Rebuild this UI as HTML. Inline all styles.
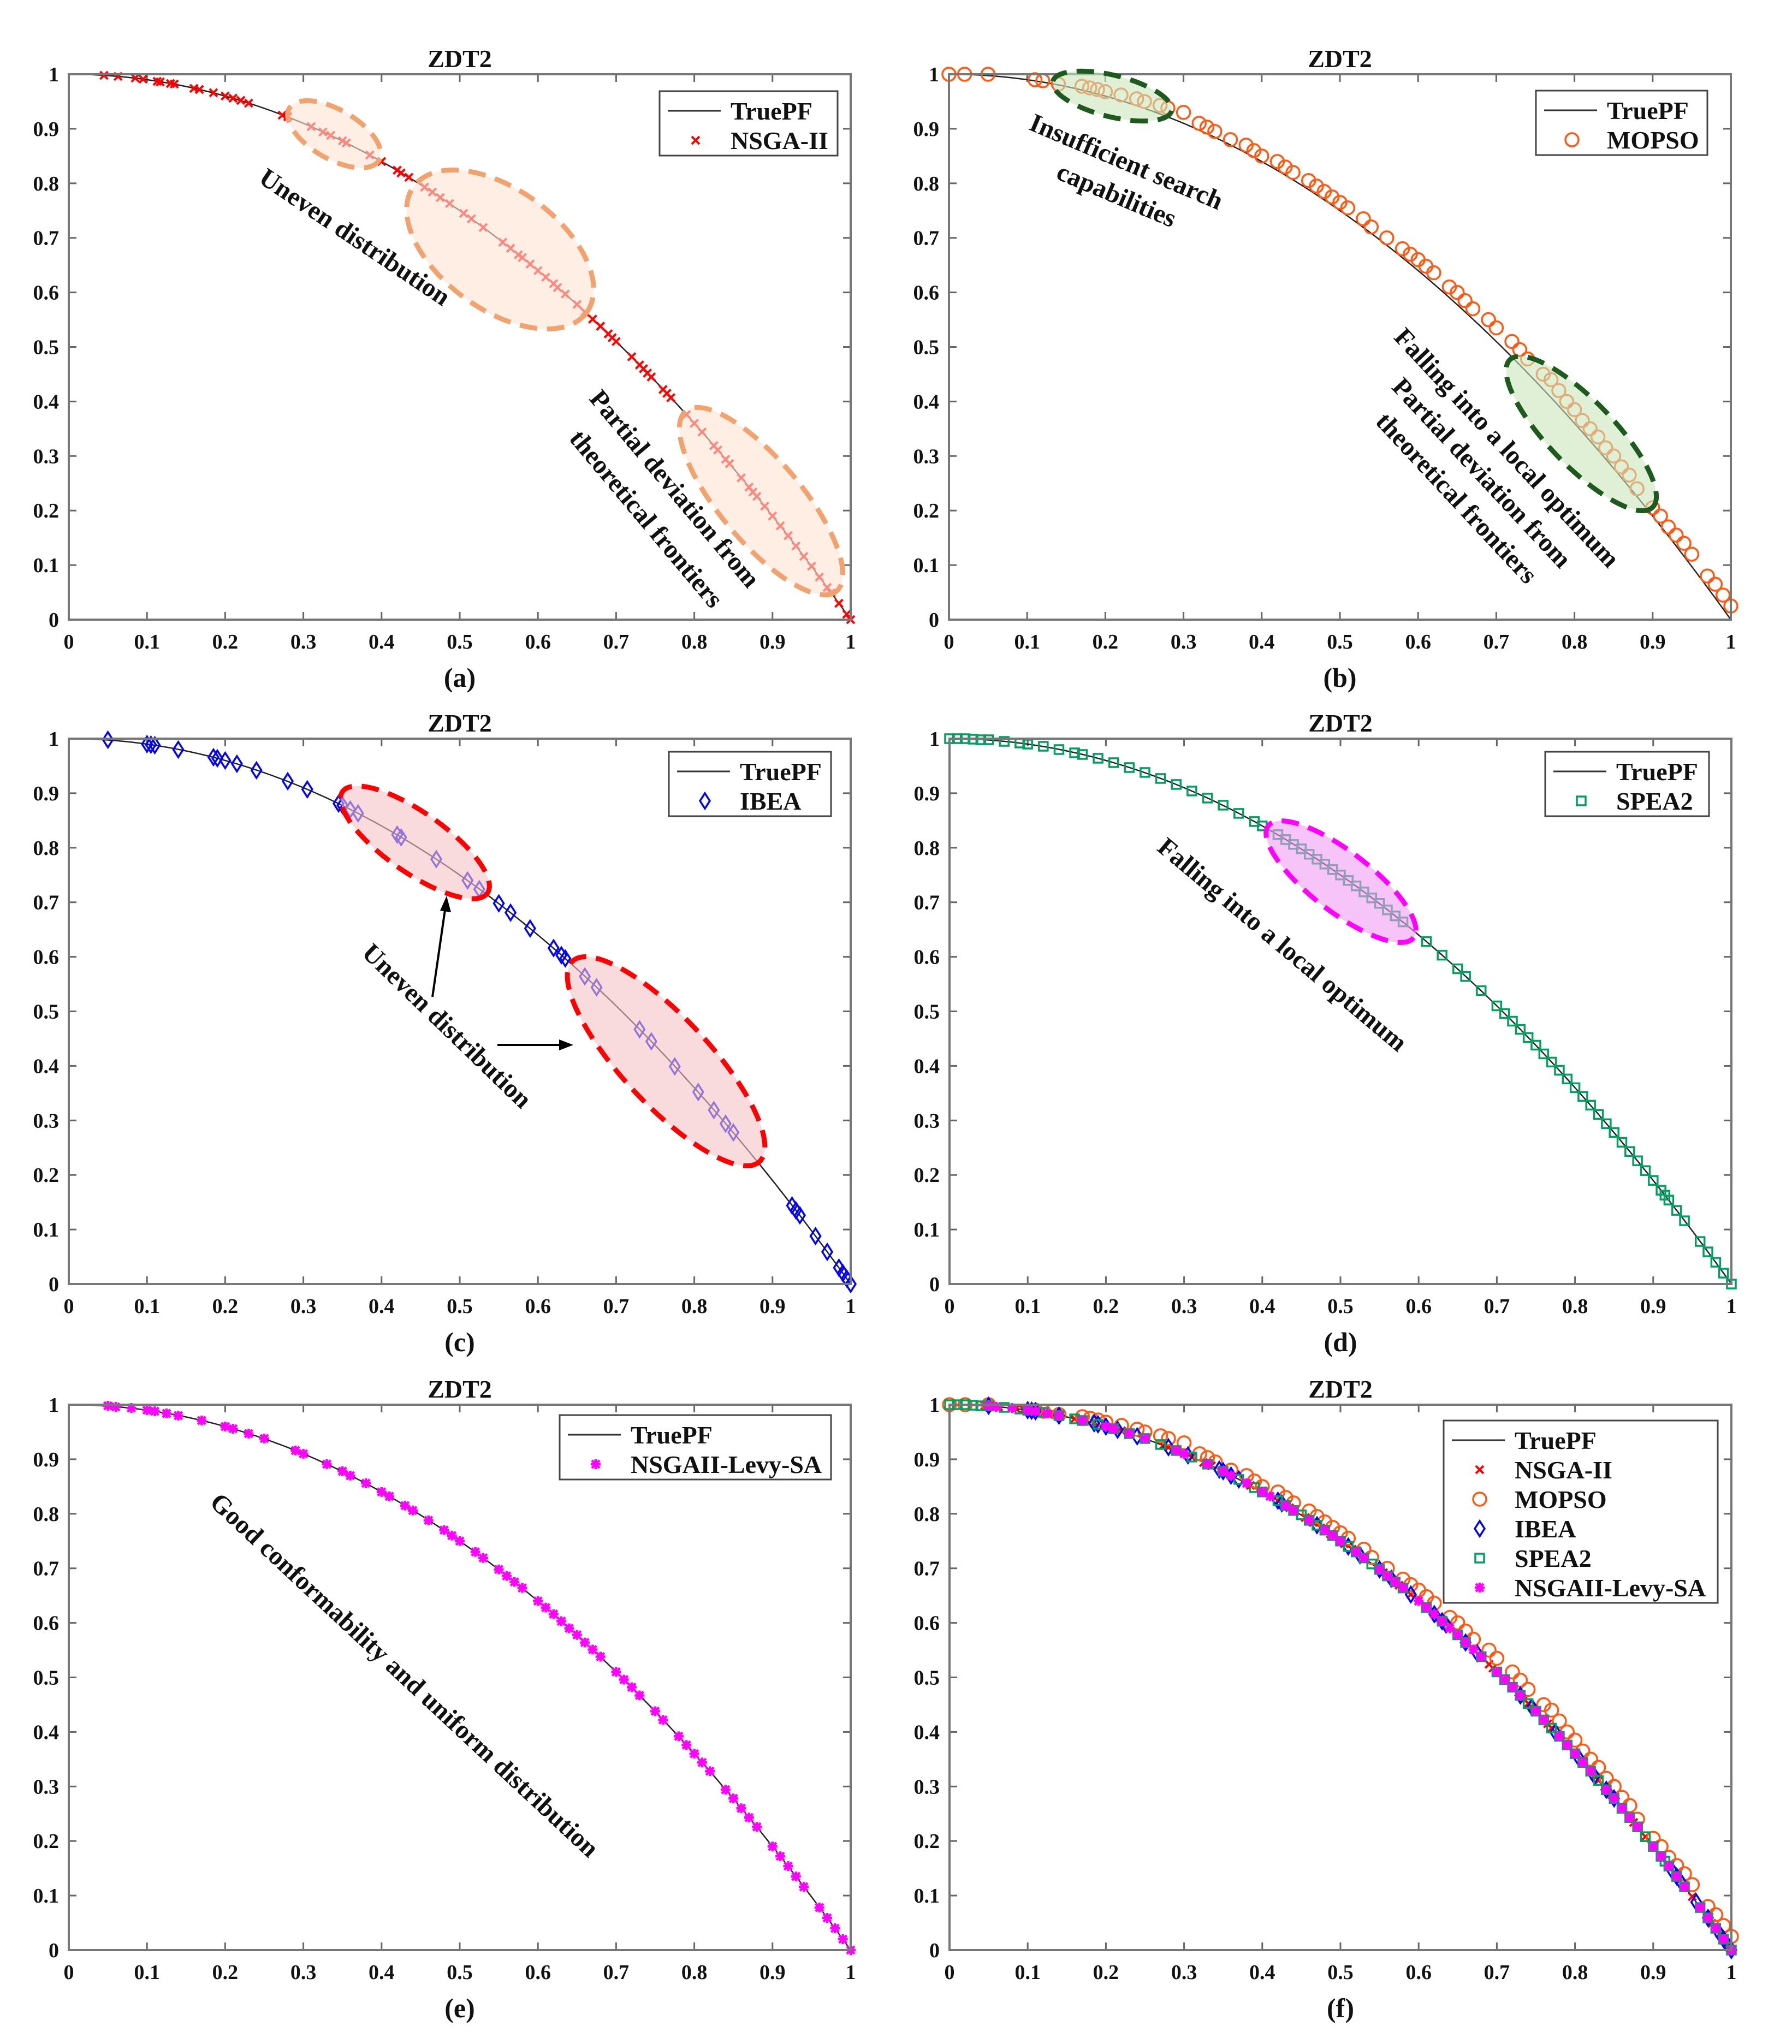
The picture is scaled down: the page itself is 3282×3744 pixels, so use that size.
<!DOCTYPE html>
<html><head><meta charset="utf-8"><style>
html,body{margin:0;padding:0;background:#fff;}
svg{display:block;font-family:"Liberation Serif",serif;font-weight:bold;}
</style></head><body>
<svg id="fig" xmlns="http://www.w3.org/2000/svg" width="3282" height="3744" viewBox="0 0 3282 3744">
<rect width="3282" height="3744" fill="#fff"/>
</svg>
<script>
// ---- data ----
const ticks = [0,0.1,0.2,0.3,0.4,0.5,0.6,0.7,0.8,0.9,1];
const tickLabels = ["0","0.1","0.2","0.3","0.4","0.5","0.6","0.7","0.8","0.9","1"];
const nsgaX = [0.045,0.063,0.085,0.095,0.113,0.117,0.13,0.135,0.16,0.167,0.185,0.2,0.21,0.22,0.23,0.273,0.28,0.31,0.325,0.335,0.35,0.355,0.385,0.40,0.42,0.425,0.435,0.455,0.465,0.475,0.487,0.505,0.515,0.53,0.555,0.565,0.575,0.58,0.59,0.6,0.61,0.62,0.625,0.635,0.65,0.66,0.67,0.68,0.69,0.695,0.70,0.72,0.73,0.735,0.74,0.745,0.76,0.765,0.77,0.79,0.80,0.81,0.825,0.83,0.84,0.845,0.86,0.87,0.875,0.88,0.89,0.9,0.91,0.92,0.93,0.94,0.95,0.96,0.97,0.975,0.985,0.995,1.0];
const nsgaY = [0.998,0.996,0.993,0.991,0.987,0.986,0.983,0.982,0.974,0.972,0.966,0.96,0.956,0.952,0.947,0.925,0.922,0.904,0.894,0.888,0.878,0.874,0.852,0.84,0.824,0.819,0.811,0.793,0.784,0.774,0.763,0.745,0.735,0.719,0.692,0.681,0.669,0.664,0.652,0.64,0.628,0.616,0.609,0.597,0.578,0.564,0.551,0.538,0.524,0.517,0.51,0.482,0.467,0.46,0.452,0.445,0.422,0.415,0.407,0.376,0.36,0.344,0.319,0.311,0.294,0.286,0.26,0.243,0.234,0.226,0.208,0.19,0.172,0.154,0.135,0.116,0.098,0.078,0.059,0.049,0.03,0.01,0];
const mopsoX = [0,0.02,0.05,0.11,0.12,0.14,0.17,0.18,0.19,0.2,0.22,0.24,0.25,0.27,0.28,0.30,0.32,0.33,0.34,0.36,0.38,0.39,0.40,0.42,0.43,0.44,0.46,0.47,0.48,0.49,0.50,0.51,0.53,0.54,0.56,0.58,0.59,0.6,0.61,0.62,0.64,0.65,0.66,0.67,0.69,0.7,0.72,0.73,0.74,0.76,0.77,0.78,0.79,0.80,0.81,0.82,0.83,0.84,0.85,0.86,0.87,0.88,0.9,0.91,0.92,0.93,0.94,0.95,0.97,0.98,0.99,1.0];
const mopsoY = [1,1,1,0.99,0.988,0.982,0.978,0.975,0.972,0.968,0.962,0.955,0.95,0.943,0.938,0.93,0.91,0.903,0.895,0.88,0.87,0.86,0.85,0.84,0.83,0.82,0.805,0.795,0.785,0.775,0.765,0.755,0.735,0.72,0.70,0.68,0.67,0.66,0.648,0.636,0.61,0.6,0.585,0.57,0.55,0.535,0.51,0.495,0.478,0.45,0.44,0.42,0.40,0.385,0.365,0.35,0.335,0.315,0.30,0.28,0.265,0.24,0.205,0.19,0.17,0.155,0.14,0.12,0.08,0.065,0.045,0.025];
const ibeaX = [0.05,0.1,0.105,0.11,0.14,0.185,0.19,0.2,0.215,0.24,0.28,0.305,0.345,0.35,0.36,0.37,0.42,0.425,0.47,0.51,0.525,0.55,0.565,0.59,0.62,0.63,0.635,0.66,0.675,0.73,0.745,0.775,0.805,0.825,0.84,0.85,0.925,0.93,0.935,0.955,0.97,0.985,0.99,0.995,1.0];
const ibeaY = [0.998,0.99,0.989,0.988,0.98,0.966,0.964,0.96,0.954,0.942,0.922,0.907,0.881,0.878,0.87,0.863,0.824,0.819,0.779,0.74,0.724,0.698,0.681,0.652,0.616,0.603,0.597,0.564,0.544,0.467,0.445,0.399,0.352,0.319,0.294,0.278,0.144,0.135,0.126,0.088,0.059,0.03,0.02,0.01,0];
const speaX = [0,0.01,0.02,0.03,0.04,0.05,0.07,0.09,0.1,0.12,0.14,0.16,0.17,0.19,0.21,0.23,0.25,0.27,0.29,0.31,0.33,0.35,0.37,0.39,0.4,0.42,0.43,0.44,0.45,0.46,0.47,0.48,0.49,0.5,0.51,0.52,0.53,0.54,0.55,0.56,0.57,0.58,0.61,0.63,0.65,0.66,0.68,0.7,0.71,0.72,0.73,0.74,0.75,0.76,0.77,0.78,0.79,0.8,0.81,0.82,0.83,0.84,0.85,0.86,0.87,0.88,0.89,0.9,0.91,0.915,0.92,0.93,0.94,0.96,0.97,0.98,0.99,1.0];
const speaY = [1,1,1,0.999,0.998,0.998,0.995,0.992,0.99,0.986,0.98,0.974,0.971,0.964,0.956,0.947,0.938,0.927,0.916,0.904,0.891,0.878,0.863,0.848,0.84,0.824,0.815,0.806,0.798,0.788,0.779,0.77,0.76,0.75,0.74,0.73,0.719,0.708,0.698,0.686,0.675,0.664,0.628,0.603,0.578,0.564,0.538,0.51,0.496,0.482,0.467,0.452,0.438,0.422,0.407,0.392,0.376,0.36,0.344,0.328,0.311,0.294,0.278,0.26,0.243,0.226,0.208,0.19,0.172,0.163,0.154,0.135,0.116,0.078,0.059,0.04,0.02,0];
const levyX = [0.05,0.06,0.08,0.1,0.11,0.125,0.14,0.17,0.2,0.21,0.23,0.25,0.29,0.3,0.33,0.35,0.36,0.38,0.4,0.41,0.43,0.44,0.46,0.48,0.49,0.5,0.52,0.53,0.55,0.56,0.57,0.58,0.6,0.61,0.62,0.63,0.64,0.65,0.66,0.67,0.68,0.7,0.71,0.72,0.73,0.75,0.76,0.78,0.79,0.8,0.81,0.82,0.84,0.85,0.86,0.87,0.88,0.9,0.91,0.92,0.93,0.94,0.96,0.97,0.98,0.99,1.0];
const levyY = [0.998,0.996,0.994,0.99,0.988,0.984,0.98,0.971,0.96,0.956,0.947,0.938,0.916,0.91,0.891,0.878,0.87,0.856,0.84,0.832,0.815,0.806,0.788,0.77,0.76,0.75,0.73,0.719,0.698,0.686,0.675,0.664,0.64,0.628,0.616,0.603,0.59,0.578,0.564,0.551,0.538,0.51,0.496,0.482,0.467,0.438,0.422,0.392,0.376,0.36,0.344,0.328,0.294,0.278,0.26,0.243,0.226,0.19,0.172,0.154,0.135,0.116,0.078,0.059,0.04,0.02,0];

// ---- rendering ----
const NS="http://www.w3.org/2000/svg";
const svg=document.getElementById('fig');
const W=1432, H=999;
function mk(tag,attrs,parent){const e=document.createElementNS(NS,tag);for(const k in attrs)e.setAttribute(k,attrs[k]);(parent||svg).appendChild(e);return e;}

const SER={
 nsga:{name:'NSGA-II',x:nsgaX,y:nsgaY,color:'#ff0000',m:'x'},
 mopso:{name:'MOPSO',x:mopsoX,y:mopsoY,color:'#ff5a14',m:'o'},
 ibea:{name:'IBEA',x:ibeaX,y:ibeaY,color:'#0000ff',m:'d'},
 spea:{name:'SPEA2',x:speaX,y:speaY,color:'#00a060',m:'s'},
 levy:{name:'NSGAII-Levy-SA',x:levyX,y:levyY,color:'#ff00ff',m:'*'}
};

function marker(g,type,cx,cy,color){
 let e;
 if(type==='x'){e=mk('path',{d:`M${cx-7} ${cy-7}L${cx+7} ${cy+7}M${cx-7} ${cy+7}L${cx+7} ${cy-7}`,stroke:color,'stroke-width':4,fill:'none'},g);}
 else if(type==='o'){e=mk('circle',{cx:cx,cy:cy,r:12,stroke:color,'stroke-width':3.5,fill:'none'},g);}
 else if(type==='d'){e=mk('path',{d:`M${cx} ${cy-14}L${cx+9} ${cy}L${cx} ${cy+14}L${cx-9} ${cy}Z`,stroke:color,'stroke-width':3.5,fill:'none'},g);}
 else if(type==='s'){e=mk('rect',{x:cx-8,y:cy-8,width:16,height:16,stroke:color,'stroke-width':3.5,fill:'none'},g);}
 else {e=mk('path',{d:`M${cx-9} ${cy}L${cx+9} ${cy}M${cx} ${cy-9}L${cx} ${cy+9}M${cx-7} ${cy-7}L${cx+7} ${cy+7}M${cx-7} ${cy+7}L${cx+7} ${cy-7}`,stroke:color,'stroke-width':4.5,fill:'none'},g);}
 return e;
}

const panels=[
 {id:'a',x0:126,y0:136,series:['nsga'],leg:[1208,167,326]},
 {id:'b',x0:1738,y0:136,series:['mopso'],leg:[2813,166,314]},
 {id:'c',x0:126,y0:1353,series:['ibea'],leg:[1225,1377,297]},
 {id:'d',x0:1739,y0:1353,series:['spea'],leg:[2830,1377,300]},
 {id:'e',x0:126,y0:2573,series:['levy'],leg:[1025,2592,497]},
 {id:'f',x0:1739,y0:2573,series:['nsga','mopso','ibea','spea','levy'],leg:[2644,2602,502]}
];

function text(g,str,x,y,size,anchor,extra){
 const t=mk('text',Object.assign({x:x,y:y,'font-size':size,'text-anchor':anchor||'middle',fill:'#111'},extra||{}),g);
 t.textContent=str;return t;
}

panels.forEach(p=>{
 const g=mk('g',{});
 
 
 const sx=v=>p.x0+v*W, sy=v=>p.y0+H-v*H;
 p.sx=sx;p.sy=sy;p.g=g;
 const tt=text(g,'ZDT2',p.x0+W/2,p.y0-13,46);
 
 
 ticks.forEach((t,i)=>{
  mk('line',{x1:sx(t),y1:p.y0+H,x2:sx(t),y2:p.y0+H-14,stroke:'#666','stroke-width':3},g);
  mk('line',{x1:sx(t),y1:p.y0,x2:sx(t),y2:p.y0+14,stroke:'#666','stroke-width':3},g);
  mk('line',{x1:p.x0,y1:sy(t),x2:p.x0+14,y2:sy(t),stroke:'#666','stroke-width':3},g);
  mk('line',{x1:p.x0+W,y1:sy(t),x2:p.x0+W-14,y2:sy(t),stroke:'#666','stroke-width':3},g);
  const xl=text(g,tickLabels[i],sx(t),p.y0+H+53,38);
  
  
  const yl=text(g,tickLabels[i],p.x0-18,sy(t)+13,38,'end');
  
  
 });
 let d='';
 for(let k=0;k<=200;k++){const x=k/200;d+=(k?'L':'M')+sx(x).toFixed(1)+' '+sy(1-x*x).toFixed(1);}
 const pf=mk('path',{d:d,stroke:'#222','stroke-width':2.5,fill:'none'},g);
 
 
 p.series.forEach(k=>{
  const s=SER[k];
  const sg=mk('g',{},g);
  
  
  s.x.forEach((xv,i)=>{
   const m=marker(sg,s.m,sx(xv),sy(s.y[i]),s.color);
   
   
  });
 });
 const box=mk('rect',{x:p.x0,y:p.y0,width:W,height:H,fill:'none',stroke:'#777','stroke-width':4},g);
 
 
 const sl=text(g,'('+p.id+')',p.x0+W/2,p.y0+H+123,50,'middle');
 
 
 const [lx,ly,lw]=p.leg;
 const n=p.series.length+1;
 const lg=mk('g',{},g);
 
 
 mk('rect',{x:lx,y:ly,width:lw,height:10+n*54,fill:'#fff',stroke:'#444','stroke-width':3},lg);
 const items=[{name:'TruePF'}].concat(p.series.map(k=>SER[k]));
 items.forEach((it,i)=>{
  const cy=ly+36+i*54;
  const eg=mk('g',{},lg);
  
  
  if(i===0) mk('line',{x1:lx+15,y1:cy,x2:lx+112,y2:cy,stroke:'#333','stroke-width':3},eg);
  else marker(eg,it.m,lx+66,cy,it.color);
  text(eg,it.name,lx+130,cy+16,46,'start');
 });
});

function ell(p,cx,cy,rx,ry,ang,fill,stroke,name){
 const e=mk('ellipse',{cx:cx,cy:cy,rx:rx,ry:ry,transform:`rotate(${ang} ${cx} ${cy})`,fill:fill,'fill-opacity':0.6,stroke:stroke,'stroke-width':9,'stroke-dasharray':'32 18'},p.g);
 
 
}
function note(p,str,cx,cy,ang,name){
 const t=text(p.g,str,cx,cy+16,48,'middle',{transform:`rotate(${ang} ${cx} ${cy})`});
 
 
}
const [pa,pb,pc,pd,pe,pf]=panels;
ell(pa,612,246,95,45,30,'#fde3d2','#f2a26e','highlight-ellipse');
ell(pa,916,457,196,110,36,'#fde3d2','#f2a26e','highlight-ellipse');
ell(pa,1394,918,215,75,50,'#fde3d2','#f2a26e','highlight-ellipse');
note(pa,'Uneven distribution',650,434,34,'annotation-text');
note(pa,'Partial deviation from',1236,895,50,'annotation-text');
note(pa,'theoretical frontiers',1184,950,50,'annotation-text');

ell(pb,2037,176,112,38,14,'#c9e6bd','#1e5a1e','highlight-ellipse');
ell(pb,2896,794,188,60,46,'#c9e6bd','#1e5a1e','highlight-ellipse');
note(pb,'Insufficient search',2063,296,23,'annotation-text');
note(pb,'capabilities',2045,357,23,'annotation-text');
note(pb,'Falling into a local optimum',2760,820,47,'annotation-text');
note(pb,'Partial deviation from',2714,866,47,'annotation-text');
note(pb,'theoretical frontiers',2668,912,47,'annotation-text');

ell(pc,760,1543,162,55,35,'#f6c3c6','#ff0000','highlight-ellipse');
ell(pc,1220,1944,251,80,47,'#f6c3c6','#ff0000','highlight-ellipse');
note(pc,'Uneven distribution',819,1879,44,'annotation-text');
const a1=mk('path',{d:'M792 1826L816 1660',stroke:'#000','stroke-width':4,fill:'none'},pc.g);


const h1=mk('path',{d:'M818 1641L806 1668L826 1671Z',fill:'#000'},pc.g);


const a2=mk('path',{d:'M911 1914L1030 1914',stroke:'#000','stroke-width':4,fill:'none'},pc.g);


const h2=mk('path',{d:'M1050 1914L1024 1904L1024 1924Z',fill:'#000'},pc.g);



ell(pd,2456,1615,168,55,37.6,'#f29cf5','#ff00ff','highlight-ellipse');
note(pd,'Falling into a local optimum',2349,1730,40,'annotation-text');

note(pe,'Good conformability and uniform distribution',741,3068,43,'annotation-text');
</script>
</body></html>
